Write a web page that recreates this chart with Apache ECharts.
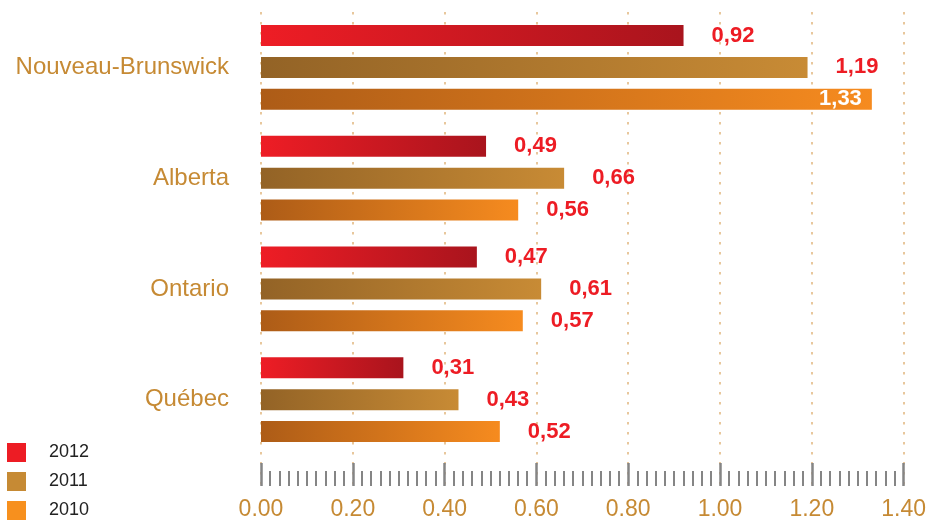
<!DOCTYPE html>
<html>
<head>
<meta charset="utf-8">
<script src="https://cdn.jsdelivr.net/npm/echarts@6/dist/echarts.min.js"></script>
<style>
    html, body { margin: 0; padding: 0; background: #fff; }
    #chart { width: 929px; height: 521px; }
</style>
</head>
<body>
<div id="chart"></div>
<script>
const provinces = ['Nouveau-Brunswick', 'Alberta', 'Ontario', 'Québec'];
const years = ['2012', '2011', '2010'];
const values2012 = [0.92, 0.49, 0.47, 0.31];
const values2011 = [1.19, 0.66, 0.61, 0.43];
const values2010 = [1.33, 0.56, 0.57, 0.52];

const font = '"Liberation Sans", Arial, Helvetica, sans-serif';
const tan = '#C68A34';
const red = '#ED1C24';

// couleurs : [début du dégradé, fin du dégradé, légende]
const colors = {
    '2012': ['#EE1D25', '#A9141D', '#ED1C24'],
    '2011': ['#936326', '#C88B35', '#C68A34'],
    '2010': ['#AD5C17', '#F68B1F', '#F7901E'],
};

function makeSeries(name, values) {
    const c = colors[name];
    return {
        name: name,
        type: 'bar',
        xAxisIndex: 0,
        yAxisIndex: 0,
        barWidth: 21,
        barGap: '52%',
        itemStyle: {
            color: new echarts.graphic.LinearGradient(0, 0, 1, 0, [
                { offset: 0, color: c[0] },
                { offset: 1, color: c[1] },
            ]),
        },
        label: {
            show: true,
            position: 'right',
            distance: 28,
            color: red,
            fontFamily: font,
            fontWeight: 'bold',
            fontSize: 22,
            formatter: (p) => p.value.toFixed(2).replace('.', ','),
        },
        data: values.map((v) => {
            // la plus grande valeur est écrite dans la barre
            if (v > 1.3) {
                return { value: v, label: { position: 'insideRight', distance: 10, color: '#fff' } };
            }
            return v;
        }),
    };
}

const chart = echarts.init(document.getElementById('chart'));

const option = {
    animation: false,
    backgroundColor: '#fff',
    legend: {
        orient: 'vertical',
        left: 7,
        top: 443,
        padding: 0,
        height: 100,
        icon: 'rect',
        itemWidth: 19,
        itemHeight: 19,
        itemGap: 10,
        textStyle: {
            fontFamily: font,
            fontSize: 18,
            color: '#222',
            padding: [0, 0, 0, 18],
        },
        data: years.map((y) => ({ name: y, itemStyle: { color: colors[y][2] } })),
    },
    grid: [
        { left: 261, right: 25, top: 12, bottom: 66 },
        { left: 261, right: 25, top: 12, bottom: 33 },
    ],
    xAxis: [
        {
            gridIndex: 0,
            type: 'value',
            min: 0,
            max: 1.4,
            interval: 0.2,
            show: false,
        },
        {
            gridIndex: 1,
            type: 'value',
            min: 0,
            max: 1.4,
            interval: 0.2,
            axisLine: { show: false },
            axisTick: {
                show: true,
                inside: true,
                length: 23,
                lineStyle: { color: '#858585', width: 2.5 },
            },
            minorTick: {
                show: true,
                splitNumber: 10,
                length: 15,
                lineStyle: { color: '#858585', width: 2 },
            },
            splitLine: {
                show: true,
                lineStyle: { color: '#E8C79C', width: 2, type: [2.5, 7.5] },
            },
            axisLabel: {
                color: tan,
                fontFamily: font,
                fontSize: 23,
                margin: 12,
                formatter: (v) => v.toFixed(2),
            },
        },
    ],
    yAxis: [
        {
            gridIndex: 0,
            type: 'category',
            inverse: true,
            data: provinces,
            axisLine: { show: false },
            axisTick: { show: false },
            axisLabel: {
                color: tan,
                fontFamily: font,
                fontSize: 24,
                margin: 32,
            },
        },
        {
            gridIndex: 1,
            type: 'value',
            show: false,
        },
    ],
    series: [
        makeSeries('2012', values2012),
        makeSeries('2011', values2011),
        makeSeries('2010', values2010),
    ],
};

chart.setOption(option);
</script>
</body>
</html>
